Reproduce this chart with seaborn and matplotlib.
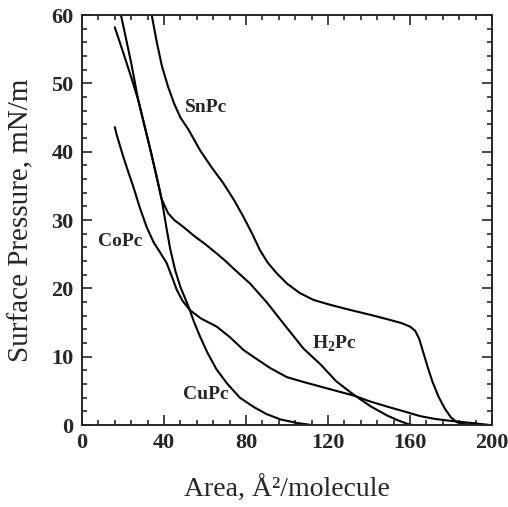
import matplotlib
matplotlib.use("Agg")
import matplotlib.pyplot as plt
import seaborn as sns
import numpy as np
import pandas as pd

# isotherm curves: area (Å²/molecule), pressure (mN/m)
snpc_area = [34, 36.5, 39, 42, 45, 48, 52, 57.6, 63, 68.9, 74, 78.7, 83, 86.8, 90.5, 95,
             100, 106.3, 113, 121, 130, 141, 150, 156, 160, 162.5, 164.5, 166.5, 168.5,
             171, 174, 177, 180, 183, 187, 193]
snpc_pres = [60, 56, 52.5, 49.5, 47, 45, 43.2, 40.2, 37.8, 35.4, 33, 30.5, 28, 25.6, 23.8, 22.2,
             20.7, 19.3, 18.3, 17.6, 16.9, 16.1, 15.4, 14.9, 14.4, 13.8, 12.6, 10.6, 8.6,
             6.3, 4.1, 2.4, 1.1, 0.4, 0.1, 0]

h2pc_area = [19, 21.5, 24, 27.4, 30.5, 33.9, 36.5, 38.9, 42, 45, 49.4, 55, 60, 65.7, 70, 75,
             82, 90, 100, 108, 116.6, 124, 132.7, 141, 148.8, 154, 158.5, 161]
h2pc_pres = [60, 56.5, 53, 47.6, 43.8, 39.6, 36.2, 33, 31, 30, 29, 27.6, 26.5, 25.1, 24, 22.6,
             20.7, 18, 14.2, 11.2, 8.8, 6.4, 4.4, 2.7, 1.4, 0.7, 0.2, 0]

cupc_area = [16, 20, 24, 27.4, 30.5, 33.9, 36.5, 38.9, 41, 43, 45.5, 48, 52, 54.5, 57.5, 61,
             65.5, 70.7, 77, 84, 90, 97, 105, 112]
cupc_pres = [58.2, 54.6, 50.9, 47.6, 43.8, 39.6, 36.2, 33, 29.2, 25.8, 22.6, 20.2, 17.3, 15.2,
             13, 10.7, 8.2, 6.1, 4.0, 2.6, 1.6, 0.8, 0.3, 0]

copc_area = [16, 17, 18.5, 20, 22.5, 25, 28, 31.5, 35, 38, 41.3, 44, 46.2, 49, 52.7, 58, 65.7,
             72, 78.7, 84, 92, 100, 108, 116.6, 124, 132.7, 140, 148.8, 157, 165, 172, 180,
             190, 199]
copc_pres = [43.6, 42.4, 40.9, 39.4, 37.1, 34.9, 32, 29, 26.7, 25.3, 23.7, 21.6, 19.8, 18.2,
             16.8, 15.6, 14.4, 12.9, 11.0, 9.9, 8.3, 7.0, 6.3, 5.6, 5.0, 4.3, 3.5, 2.7, 2.0,
             1.3, 0.9, 0.6, 0.3, 0]

curves = {"SnPc": (snpc_area, snpc_pres), "H2Pc": (h2pc_area, h2pc_pres),
          "CuPc": (cupc_area, cupc_pres), "CoPc": (copc_area, copc_pres)}

# label anchors (area, pressure)
label_text = ["SnPc", "H$_\\mathbf{2}$Pc", "CuPc", "CoPc"]
label_area = [50.2, 112, 49.3, 7.8]
label_pres = [46.4, 11.9, 4.4, 26.8]

sns.set_style("ticks")
plt.rcParams["font.family"] = ["Liberation Serif", "DejaVu Serif"]
plt.rcParams["mathtext.fontset"] = "custom"
plt.rcParams["mathtext.bf"] = "Liberation Serif:bold"
plt.rcParams["mathtext.rm"] = "Liberation Serif"

fig = plt.figure(figsize=(5.08, 5.07), dpi=100)
ax = fig.add_axes([0.1614, 0.1617, 0.8071, 0.8087])

for name, (a, p) in curves.items():
    df = pd.DataFrame({"area": a, "pressure": p})
    sns.lineplot(data=df, x="area", y="pressure", ax=ax, color="black", lw=1.5,
                 sort=False, estimator=None)

ax.set_xlim(0, 200)
ax.set_ylim(0, 60)
ax.set_xticks(np.arange(0, 201, 40))
ax.set_yticks(np.arange(0, 61, 10))
ax.set_xticks(np.arange(0, 201, 8), minor=True)
ax.set_yticks(np.arange(0, 61, 2), minor=True)
ax.tick_params(which="both", direction="in", top=True, right=True, width=1.2)
ax.tick_params(which="major", length=7, labelsize=16, pad=6)
ax.tick_params(which="minor", length=3.5)
for lab in ax.get_xticklabels() + ax.get_yticklabels():
    lab.set_fontweight("bold")
for s in ax.spines.values():
    s.set_linewidth(1.4)

ax.set_xlabel("Area, Å²/molecule", fontsize=20, labelpad=16)
ax.set_ylabel("Surface Pressure, mN/m", fontsize=21, labelpad=12)

for t, x, y in zip(label_text, label_area, label_pres):
    ax.text(x, y, t, fontsize=14, fontweight="bold", ha="left", va="center")

fig.savefig("out.png", dpi=100)
